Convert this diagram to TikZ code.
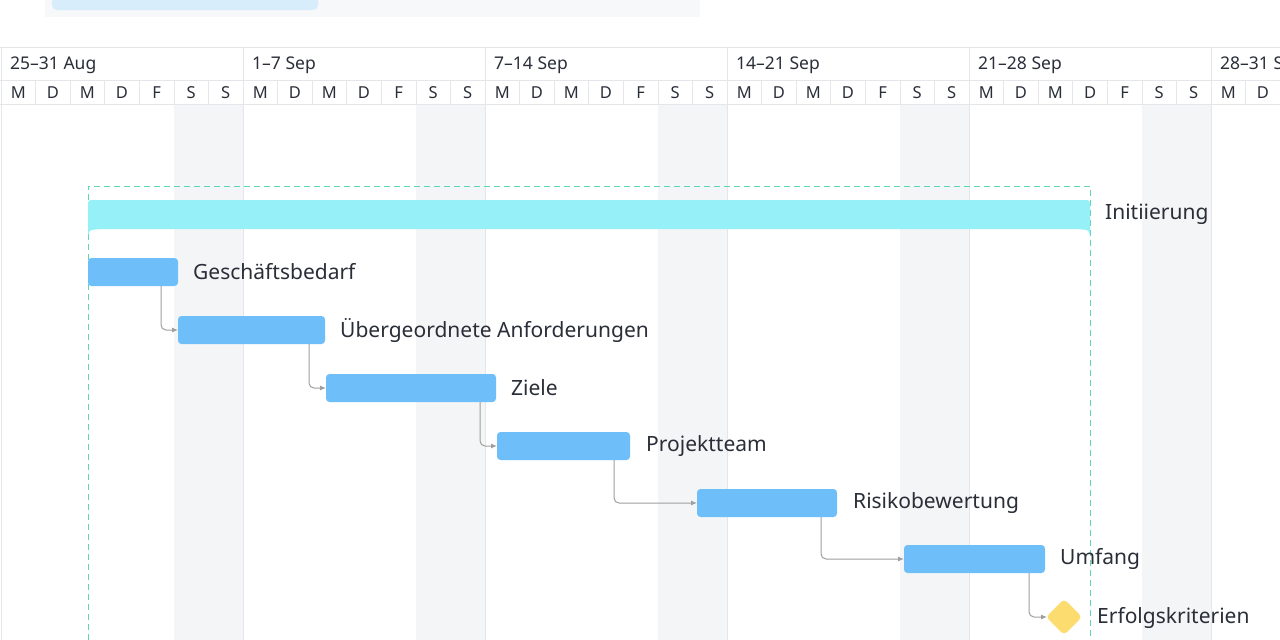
\documentclass[tikz,border=0pt]{standalone}
\usepackage{fontspec}
\setmainfont{Noto Sans}
\usetikzlibrary{arrows.meta}
\definecolor{barblue}{HTML}{6EBEFA}
\definecolor{txt}{HTML}{2A2E38}
\definecolor{cyanbar}{HTML}{96F0F7}
\definecolor{grid}{HTML}{E4E6EA}
\definecolor{wk}{HTML}{F4F5F7}
\definecolor{ms}{HTML}{FCDC6E}
\definecolor{dash}{HTML}{5CD6B4}
\definecolor{pill}{HTML}{D8EDFC}
\begin{document}
\begin{tikzpicture}[x=1pt,y=-1pt,
  task/.style={fill=barblue,rounded corners=3.5pt,draw=none},
  lbl/.style={anchor=west,font=\fontsize{21}{24}\selectfont,text=txt,inner sep=0},
  dep/.style={draw=gray!75,line width=1pt,rounded corners=5pt,-{Latex[length=6pt,width=5pt]}},
  hd/.style={anchor=west,font=\fontsize{17.5}{20}\selectfont\bfseries,text=txt,inner sep=0},
  dy/.style={font=\fontsize{16.5}{18}\selectfont,text=txt,inner sep=0}]
\useasboundingbox (0,0) rectangle (1280,640);
\fill[white] (0,0) rectangle (1280,640);
% top panel
\fill[wk!70!white] (45,-5) rectangle (700,17);
\fill[pill,rounded corners=5pt] (52,-8) rectangle (318,10);
% weekend shading
\foreach \w in {0,...,4} {
  \fill[wk] (1+\w*242+5*34.57,104) rectangle (1+\w*242+7*34.57,640);
}
% grid lines
\foreach \w in {0,...,5} {
  \draw[grid,line width=0.8pt] (1+\w*242,47) -- (1+\w*242,640);
}
\draw[grid,line width=0.8pt] (0,47) -- (1280,47);
\draw[grid,line width=0.8pt] (0,80) -- (1280,80);
\draw[grid,line width=0.8pt] (0,104) -- (1280,104);
% headers
\foreach \t [count=\i from 0] in {25--31 Aug,1--7 Sep,7--14 Sep,14--21 Sep,21--28 Sep,28--31 Sep} {
  \node[hd] (h\i) at (10+\i*242,65) {\t};
}
\foreach \w in {0,...,5} {
  \foreach \d [count=\j from 0] in {M,D,M,D,F,S,S} {
    \pgfmathsetmacro{\xx}{1+\w*242+\j*34.57}
    \ifnum\j>0 \draw[grid,line width=0.6pt] (\xx,80) -- (\xx,104);\fi
    \node[dy] (d\w\j) at (\xx+17.3,92.5) {\d};
  }
}
% summary
\draw[draw=dash,line width=1pt,dash pattern=on 6pt off 4pt] (88,640) -- (88,186) -- (1090,186) -- (1090,640);
\fill[cyanbar,rounded corners=3pt] (88,200) rectangle (1090,229);
\fill[cyanbar] (88,226) -- (88,241) .. controls (88,230) .. (100,229) -- (100,226) -- cycle;
\fill[cyanbar] (1090,226) -- (1090,241) .. controls (1090,230) .. (1078,229) -- (1078,226) -- cycle;
\node[lbl] (li) at (1105,214) {Initiierung};
% tasks
\draw[task] (88,258) rectangle (178,286);
\node[lbl] (l1) at (193,272) {Geschäftsbedarf};
\draw[task] (178,316) rectangle (325,344);
\node[lbl] (l2) at (340,330) {Übergeordnete Anforderungen};
\draw[task] (326,374) rectangle (496,402);
\node[lbl] (l3) at (511,388) {Ziele};
\draw[task] (497,432) rectangle (630,460);
\node[lbl] (l4) at (646,446) {Projektteam};
\draw[task] (697,489) rectangle (837,517);
\node[lbl] (l5) at (853,503) {Risikobewertung};
\draw[task] (904,545) rectangle (1045,573);
\node[lbl] (l6) at (1060,559) {Umfang};
\fill[ms,rounded corners=4pt] (1064,599) -- (1082,617) -- (1064,635) -- (1046,617) -- cycle;
\node[lbl] (l7) at (1097,618) {Erfolgskriterien};
% dependencies
\coordinate (c1) at (161,286); \coordinate (e1) at (178,330);
\coordinate (c2) at (309,344); \coordinate (e2) at (326,388);
\coordinate (c3) at (480,402); \coordinate (e3) at (497,446);
\coordinate (c4) at (614,460); \coordinate (e4) at (697,503);
\coordinate (c5) at (821,517); \coordinate (e5) at (904,559);
\coordinate (c6) at (1029,573); \coordinate (e6) at (1047,617);
\foreach \i in {1,...,6} { \draw[dep] (c\i) |- (e\i); }
\end{tikzpicture}
\end{document}
